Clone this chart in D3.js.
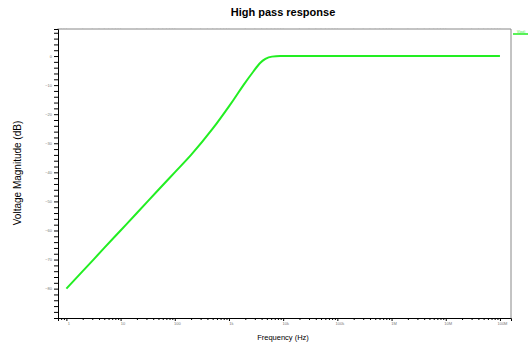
<!DOCTYPE html>
<html>
<head>
<meta charset="utf-8">
<script src="https://cdn.jsdelivr.net/npm/d3@7"></script>
<style>
  body { margin: 0; background: #fff; }
  svg { display: block; font-family: "Liberation Sans", Arial, sans-serif; }
</style>
</head>
<body>
<div id="chart"></div>
<script>
// values
const freqs = [1, 2, 5, 10, 20, 50, 100, 200, 500, 1000, 1200, 1850, 2800, 3800, 4700, 6200, 8800, 20000, 1e5, 1e6, 1e7, 1e8];
const magDb = [-80, -74, -66, -60, -54, -46, -40, -34, -25, -17.3, -15.2, -10, -5.4, -2.3, -1.0, -0.2, 0, 0, 0, 0, 0, 0];
const yTicks = [0, -10, -20, -30, -40, -50, -60, -70, -80];
const xTicks = [1, 10, 100, 1e3, 1e4, 1e5, 1e6, 1e7, 1e8];
const xTickLabels = ['1', '10', '100', '1k', '10k', '100k', '1M', '10M', '100M'];

const width = 528, height = 346;
const margin = { top: 29, right: 17, bottom: 28, left: 58 };

const svg = d3.select('#chart').append('svg')
  .attr('width', width)
  .attr('height', height);

// scales
const x = d3.scaleLog()
  .domain([0.7, 1.6e8])
  .range([margin.left, width - margin.right]);

const y = d3.scaleLinear()
  .domain([-90.1, 9.3])
  .range([height - margin.bottom, margin.top]);

// minor ticks
const xMinor = [];
for (let e = -1; e <= 8; e++) {
  for (let m = 2; m <= 9; m++) {
    const v = m * Math.pow(10, e);
    if (v >= 0.7 && v <= 1.6e8) xMinor.push(v);
  }
}
const yMinor = d3.range(-90, 10, 2).filter(v => v % 10 !== 0);

// top and right frame (grey)
svg.append('line')
  .attr('x1', margin.left).attr('x2', width - margin.right)
  .attr('y1', margin.top).attr('y2', margin.top)
  .attr('stroke', '#888').attr('stroke-width', 1);
svg.append('line')
  .attr('x1', width - margin.right).attr('x2', width - margin.right)
  .attr('y1', margin.top).attr('y2', height - margin.bottom)
  .attr('stroke', '#888').attr('stroke-width', 1);

// faint ticks on the top border
svg.append('g')
  .selectAll('line')
  .data(xMinor.concat(xTicks))
  .enter().append('line')
  .attr('x1', d => x(d)).attr('x2', d => x(d))
  .attr('y1', margin.top - 1).attr('y2', margin.top)
  .attr('stroke', '#bbb').attr('stroke-width', 1);

// x axis
const xAxis = svg.append('g')
  .attr('transform', `translate(0, ${height - margin.bottom})`)
  .call(d3.axisBottom(x).tickValues(xTicks)
    .tickFormat((d, i) => xTickLabels[i]).tickSize(3).tickPadding(1));
xAxis.select('.domain').attr('stroke', '#000');
xAxis.selectAll('text').attr('font-size', 4).attr('fill', '#777').attr('dx', 2);

svg.append('g')
  .attr('transform', `translate(0, ${height - margin.bottom})`)
  .call(d3.axisBottom(x).tickValues(xMinor).tickFormat('').tickSize(2))
  .select('.domain').remove();

// y axis
const yAxis = svg.append('g')
  .attr('transform', `translate(${margin.left}, 0)`)
  .call(d3.axisLeft(y).tickValues(yTicks).tickSize(4).tickPadding(2)
    .tickFormat(d => d3.format('d')(d)));
yAxis.select('.domain').attr('stroke', '#000');
yAxis.selectAll('text').attr('font-size', 4).attr('fill', '#777');

svg.append('g')
  .attr('transform', `translate(${margin.left}, 0)`)
  .call(d3.axisLeft(y).tickValues(yMinor).tickFormat('').tickSize(4))
  .select('.domain').remove();

// response curve
const line = d3.line()
  .x((d, i) => x(freqs[i]))
  .y(d => y(d))
  .curve(d3.curveMonotoneX);

svg.append('path')
  .datum(magDb)
  .attr('fill', 'none')
  .attr('stroke', '#22ee22')
  .attr('stroke-width', 2)
  .attr('d', line);

// legend stub (clipped at the right edge)
svg.append('line')
  .attr('x1', 513).attr('x2', 530)
  .attr('y1', 34).attr('y2', 34)
  .attr('stroke', '#22ee22').attr('stroke-width', 1.5);
svg.append('text')
  .attr('x', 517).attr('y', 33)
  .attr('font-size', 3)
  .attr('fill', '#22ee22')
  .text('V(out)');

// titles
svg.append('text')
  .attr('x', 283).attr('y', 16)
  .attr('text-anchor', 'middle')
  .attr('font-size', 11)
  .attr('font-weight', 'bold')
  .text('High pass response');

svg.append('text')
  .attr('x', 283).attr('y', 340)
  .attr('text-anchor', 'middle')
  .attr('font-size', 7.5)
  .text('Frequency (Hz)');

svg.append('text')
  .attr('transform', 'translate(21, 173) rotate(-90)')
  .attr('text-anchor', 'middle')
  .attr('font-size', 10)
  .text('Voltage Magnitude (dB)');
</script>
</body>
</html>
